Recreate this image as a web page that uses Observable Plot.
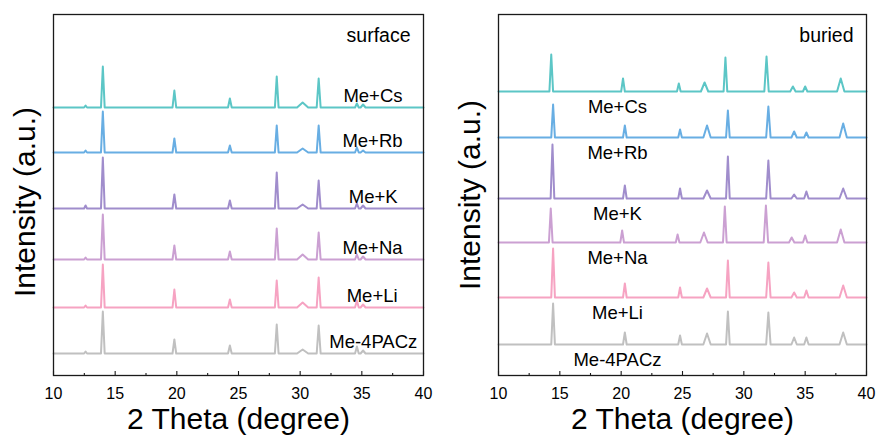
<!DOCTYPE html>
<html>
<head>
<meta charset="utf-8">
<script src="https://cdn.jsdelivr.net/npm/d3@7"></script>
<script src="https://cdn.jsdelivr.net/npm/@observablehq/plot@0.6"></script>
<style>
  body { margin: 0; background: #fff; }
  #wrap { position: relative; width: 878px; height: 438px; overflow: hidden; }
  #wrap svg { position: absolute; top: 0; }
</style>
</head>
<body>
<div id="wrap"></div>
<script>
// Samples, top trace first
const samples = ["Me+Cs", "Me+Rb", "Me+K", "Me+Na", "Me+Li", "Me-4PACz"];
const colors = ["#5cc6c6", "#68aee3", "#a08dcc", "#cba0d2", "#f6a3c2", "#c0c0c0"];
const xTicks = [10, 15, 20, 25, 30, 35, 40];
const xMinorTicks = [12.5, 17.5, 22.5, 27.5, 32.5, 37.5];

// Surface XRD: stacking offsets (a.u.), reflection positions (2θ) and half-widths (°)
const surfaceOffsets = [268, 223, 167, 116, 68, 22];
const surfacePeaks = [12.6, 14.0, 19.8, 24.3, 28.1, 30.2, 31.5, 34.6, 35.1];
const surfaceHalfWidths = [0.12, 0.15, 0.15, 0.15, 0.15, 0.45, 0.16, 0.15, 0.2];
// Surface reflection intensities (a.u.)
const surfaceCs = [2, 41, 17, 9, 31, 5, 29, 4, 3];
const surfaceRb = [2, 41, 14, 7, 27, 4, 27, 5, 2];
const surfaceK = [3, 51, 14, 8, 36, 4, 28, 5, 3];
const surfaceNa = [2, 45, 14, 8, 31, 5, 27, 5, 3];
const surfaceLi = [2, 43, 18, 8, 27, 5, 30, 7, 3];
const surfaceMe = [2, 42, 14, 8, 29, 4, 28, 7, 3];

// Buried XRD: stacking offsets, reflection positions per sample and half-widths
const buriedOffsets = [284, 238, 177, 133, 78, 31];
const buriedHalfWidths = [0.15, 0.15, 0.15, 0.3, 0.15, 0.18, 0.22, 0.18, 0.3];
const buriedPeaksCs = [14.3, 20.15, 24.7, 26.8, 28.5, 31.85, 34.0, 35.0, 37.9];
const buriedPeaksRb = [14.45, 20.3, 24.8, 27.0, 28.7, 32.0, 34.1, 35.1, 38.1];
const buriedPeaksK = [14.4, 20.3, 24.8, 27.0, 28.7, 32.0, 34.1, 35.1, 38.1];
const buriedPeaksNa = [14.26, 20.08, 24.6, 26.75, 28.45, 31.8, 33.9, 35.0, 37.9];
const buriedPeaksLi = [14.45, 20.3, 24.8, 27.0, 28.7, 32.0, 34.1, 35.1, 38.1];
const buriedPeaksMe = [14.45, 20.3, 24.8, 27.0, 28.7, 32.0, 34.1, 35.1, 38.1];
// Buried reflection intensities (a.u.)
const buriedCs = [37, 13, 8, 9, 34, 35, 5, 5, 13];
const buriedRb = [33, 12, 8, 12, 27, 31, 6, 5, 14];
const buriedK = [54, 13, 10, 8, 42, 38, 4, 7, 10];
const buriedNa = [34, 12, 8, 10, 36, 37, 5, 7, 13];
const buriedLi = [49, 14, 10, 9, 37, 35, 5, 7, 12];
const buriedMe = [41, 12, 9, 11, 33, 32, 7, 7, 12];

const font = "'Liberation Sans', Arial, Helvetica, sans-serif";

// Each reflection is drawn as a narrow spike: baseline, apex, baseline
function pattern(sample, offset, positions, heights, halfWidths) {
  const pts = [{sample, x: 10, y: offset}];
  positions.forEach((p, i) => {
    pts.push({sample, x: p - halfWidths[i], y: offset});
    pts.push({sample, x: p, y: offset + heights[i]});
    pts.push({sample, x: p + halfWidths[i], y: offset});
  });
  pts.push({sample, x: 40, y: offset});
  return pts;
}

const surfaceData = [surfaceCs, surfaceRb, surfaceK, surfaceNa, surfaceLi, surfaceMe]
  .flatMap((h, i) => pattern(samples[i], surfaceOffsets[i], surfacePeaks, h, surfaceHalfWidths));

const buriedPositions = [buriedPeaksCs, buriedPeaksRb, buriedPeaksK, buriedPeaksNa, buriedPeaksLi, buriedPeaksMe];
const buriedData = [buriedCs, buriedRb, buriedK, buriedNa, buriedLi, buriedMe]
  .flatMap((h, i) => pattern(samples[i], buriedOffsets[i], buriedPositions[i], h, buriedHalfWidths));

function panel({data, labelMark, tag, marginLeft, marginRight, titleDy}) {
  return Plot.plot({
    width: 439,
    height: 438,
    marginLeft,
    marginRight,
    marginTop: 14,
    marginBottom: 63,
    x: {domain: [10, 40]},
    y: {domain: [0, 361], axis: null},
    color: {domain: samples, range: colors},
    style: {fontFamily: font, background: "transparent", color: "#000"},
    marks: [
      Plot.line(data, {x: "x", y: "y", z: "sample", stroke: "sample", strokeWidth: 2, strokeLinejoin: "round"}),
      Plot.frame({stroke: "#1a1a1a", strokeWidth: 1.3}),
      // inward ticks along the bottom edge
      Plot.tickX(xTicks, {x: d => d, insetTop: 357, stroke: "#1a1a1a", strokeWidth: 1.1}),
      Plot.tickX(xMinorTicks, {x: d => d, insetTop: 359, stroke: "#1a1a1a", strokeWidth: 1.1}),
      Plot.axisX(xTicks, {tickSize: 0, tickPadding: 12, fontSize: 16, label: null}),
      labelMark,
      Plot.text([tag], {frameAnchor: "top-right", dx: -13, dy: 21, textAnchor: "end", lineAnchor: "middle", fontSize: 19.5, fill: "#000"}),
      Plot.text(["2 Theta (degree)"], {frameAnchor: "bottom", dy: 44, textAnchor: "middle", lineAnchor: "middle", fontSize: 30, fill: "#000"}),
      Plot.text(["Intensity (a.u.)"], {frameAnchor: "left", dx: -28, dy: titleDy, rotate: -90, textAnchor: "middle", lineAnchor: "middle", fontSize: 30, fill: "#000"})
    ]
  });
}

const surfaceLabelX = [38.3, 38.3, 37.9, 38.3, 37.9, 39.5];
const surfaceLabels = Plot.text(samples, {
  x: (d, i) => surfaceLabelX[i],
  y: (d, i) => surfaceOffsets[i],
  text: d => d,
  dy: -11,
  textAnchor: "end",
  lineAnchor: "middle",
  fontSize: 18.5,
  fill: "#000"
});

const buriedLabels = Plot.text(samples, {
  x: 19.7,
  y: (d, i) => buriedOffsets[i],
  text: d => d,
  dy: 16,
  textAnchor: "middle",
  lineAnchor: "middle",
  fontSize: 18.5,
  fill: "#000"
});

const left = panel({data: surfaceData, labelMark: surfaceLabels, tag: "surface", marginLeft: 53, marginRight: 16, titleDy: 7});
const right = panel({data: buriedData, labelMark: buriedLabels, tag: "buried", marginLeft: 59, marginRight: 12, titleDy: 0});
left.style.left = "0px";
right.style.left = "439px";
const wrap = document.getElementById("wrap");
wrap.appendChild(left);
wrap.appendChild(right);
</script>
</body>
</html>
